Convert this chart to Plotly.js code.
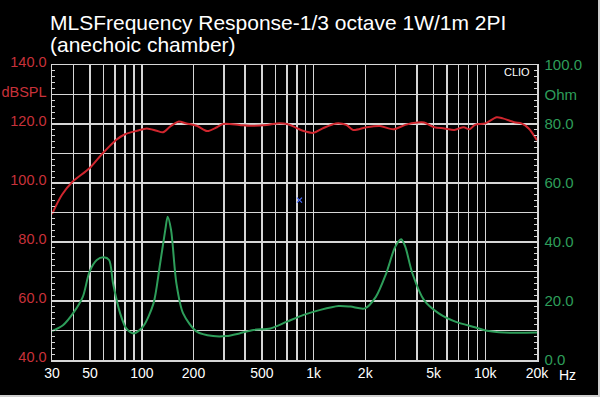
<!DOCTYPE html>
<html>
<head>
<meta charset="utf-8">
<script src="https://cdn.plot.ly/plotly-3.0.1.min.js"></script>
<style>
  html, body { margin: 0; padding: 0; background: #000; }
  #chart { width: 600px; height: 397px; }
</style>
</head>
<body>
<div id="chart"></div>
<script>
// SPL response (dB SPL) vs frequency (Hz)
const splFreq = [30, 34.3, 39.5, 49.6, 58, 70.8, 80.5, 93.9, 106.9, 122, 133, 146, 163, 182, 209, 240, 274, 297, 370, 428, 534, 612, 700, 768, 805, 876, 1000, 1130, 1350, 1550, 1700, 2030, 2435, 2920, 3420, 4030, 4400, 5050, 5780, 6600, 7480, 8100, 8700, 10000, 11650, 12650, 14770, 16230, 17900, 20000];
const splDb   = [89.5, 96, 100.4, 105, 109.5, 114.6, 116.6, 117.7, 118.5, 117.7, 117.2, 119.1, 120.8, 120.2, 119.4, 117.6, 118.9, 120, 119.7, 119.4, 119.7, 120.2, 120, 119.1, 118.5, 117.6, 117.0, 118.5, 120.2, 119.7, 118, 118.9, 119.3, 118.2, 119.7, 120.5, 120.5, 118.9, 118.5, 118, 118.9, 118.2, 119.7, 120.2, 122.3, 121.9, 120.6, 120.2, 118.5, 114.5];

// Impedance (Ohm) vs frequency (Hz)
const impFreq = [30, 34.9, 40.4, 45.4, 49.6, 54.7, 60, 64.5, 68, 74.8, 81.2, 89.6, 101.6, 117, 127, 137, 141.5, 148, 159, 174, 209, 260, 311, 370, 447, 561, 700, 876, 1096, 1400, 1640, 1990, 2310, 2650, 2990, 3240, 3420, 3760, 4400, 5360, 6690, 8700, 10230, 12880, 20000];
const impOhm  = [9.8, 11.9, 16.4, 21.5, 29.9, 33.9, 34.8, 33.9, 26, 15.8, 10.7, 9, 11.3, 19.2, 31.6, 44.1, 48.6, 44.1, 26, 15.8, 9.6, 8.1, 8.1, 9, 10.2, 10.7, 13, 15.3, 17, 18.3, 18.1, 17.5, 21.5, 29.4, 38.4, 40.9, 38.4, 29.4, 20.3, 15.8, 13, 11.1, 9.9, 9.3, 9.3];

// Cursor marker
const cursorFreq = [828];
const cursorDb = [94.2];

// Title lines
const titleLines = ['MLSFrequency Response-1/3 octave 1W/1m 2PI', '(anechoic chamber)'];

// Axis ticks
const xTickVals = [30, 40, 50, 60, 70, 80, 90, 100, 200, 300, 400, 500, 600, 700, 800, 900, 1000, 2000, 3000, 4000, 5000, 6000, 7000, 8000, 9000, 10000, 20000];
const xTickText = ["30", "", "50", "", "", "", "", "100", "200", "", "", "500", "", "", "", "", "1k", "2k", "", "", "5k", "", "", "", "", "10k", "20k"];
const yTickVals = [40, 50, 60, 70, 80, 90, 100, 110, 120, 130, 140];
const yTickText = ["40.0", "", "60.0", "", "80.0", "", "100.0", "", "120.0", "dBSPL", "140.0"];
const y2TickVals = [0, 10, 20, 30, 40, 50, 60, 70, 80, 90, 100];
const y2TickText = ["0.0", "", "20.0", "", "40.0", "", "60.0", "", "80.0", "Ohm", "100.0"];

const RED = '#d0262e';
const GREEN = '#2e9e5a';
const GRID = '#d6d6d6';
const FONT = 'Liberation Sans, Arial, sans-serif';

const traces = [
  {
    x: impFreq, y: impOhm, yaxis: 'y2', type: 'scatter', mode: 'lines',
    line: { color: GREEN, width: 2, shape: 'spline', smoothing: 0.8 },
    hoverinfo: 'skip', showlegend: false
  },
  {
    x: splFreq, y: splDb, type: 'scatter', mode: 'lines',
    line: { color: RED, width: 2, shape: 'spline', smoothing: 0.8 },
    hoverinfo: 'skip', showlegend: false
  },
  {
    x: cursorFreq, y: cursorDb, type: 'scatter', mode: 'markers',
    marker: { symbol: 'x-thin-open', size: 5, color: '#4a6cff', line: { color: '#4a6cff', width: 1.2 } },
    hoverinfo: 'skip', showlegend: false
  }
];

const layout = {
  width: 600, height: 397,
  margin: { l: 52, r: 63, t: 65, b: 37, pad: 0 },
  paper_bgcolor: '#000', plot_bgcolor: '#000',
  font: { family: FONT, color: '#fff', size: 14 },
  xaxis: {
    type: 'log', range: [Math.log10(30), Math.log10(20000)],
    tickmode: 'array', tickvals: xTickVals, ticktext: xTickText,
    showgrid: true, gridcolor: GRID, gridwidth: 1.5,
    showline: true, linecolor: GRID, linewidth: 1.5, mirror: true,
    ticks: '', zeroline: false,
    tickfont: { family: FONT, size: 14, color: '#fff' }
  },
  yaxis: {
    range: [40, 140], tickmode: 'array', tickvals: yTickVals, ticktext: yTickText,
    showgrid: true, gridcolor: GRID, gridwidth: 1.5,
    showline: true, linecolor: GRID, linewidth: 1.5,
    ticks: 'inside', ticklen: 3, tickcolor: GRID, tickwidth: 1,
    minor: { dtick: 2, tick0: 40, ticks: 'inside', ticklen: 3, tickcolor: GRID, tickwidth: 1, showgrid: false },
    zeroline: false, ticklabelshift: -3, ticklabelstandoff: 1,
    tickfont: { family: FONT, size: 14.5, color: '#c8323a' }
  },
  yaxis2: {
    range: [0, 100], overlaying: 'y', side: 'right',
    tickmode: 'array', tickvals: y2TickVals, ticktext: y2TickText,
    showgrid: false, showline: true, linecolor: GRID, linewidth: 1.5,
    ticks: 'inside', ticklen: 3, tickcolor: GRID, tickwidth: 1,
    minor: { dtick: 2, tick0: 0, ticks: 'inside', ticklen: 3, tickcolor: GRID, tickwidth: 1, showgrid: false },
    zeroline: false, ticklabelstandoff: 3,
    tickfont: { family: FONT, size: 15, color: GREEN }
  },
  annotations: [
    { text: titleLines[0], xref: 'paper', yref: 'paper', x: (48 - 52) / 485, y: (360 - 22) / 295,
      xanchor: 'left', yanchor: 'middle', showarrow: false,
      font: { family: FONT, size: 21, color: '#fff' } },
    { text: titleLines[1], xref: 'paper', yref: 'paper', x: (48 - 52) / 485, y: (360 - 44) / 295,
      xanchor: 'left', yanchor: 'middle', showarrow: false,
      font: { family: FONT, size: 21, color: '#fff' } },
    { text: 'CLIO', xref: 'paper', yref: 'paper', x: (517 - 52) / 485, y: (360 - 72) / 295,
      xanchor: 'center', yanchor: 'middle', showarrow: false,
      font: { family: FONT, size: 11, color: '#fff' } },
    { text: 'Hz', xref: 'paper', yref: 'paper', x: (567 - 52) / 485, y: (360 - 375) / 295,
      xanchor: 'center', yanchor: 'middle', showarrow: false,
      font: { family: FONT, size: 14, color: '#fff' } }
  ],
  shapes: [
    { type: 'line', xref: 'paper', yref: 'paper', x0: (599 - 52) / 485, x1: (599 - 52) / 485,
      y0: (360 - 0) / 295, y1: (360 - 397) / 295, line: { color: '#cfcfcf', width: 2 } },
    { type: 'line', xref: 'paper', yref: 'paper', x0: (0 - 52) / 485, x1: (600 - 52) / 485,
      y0: (360 - 396) / 295, y1: (360 - 396) / 295, line: { color: '#cfcfcf', width: 2 } }
  ]
};

Plotly.newPlot('chart', traces, layout, { displayModeBar: false, staticPlot: true });
</script>
</body>
</html>
